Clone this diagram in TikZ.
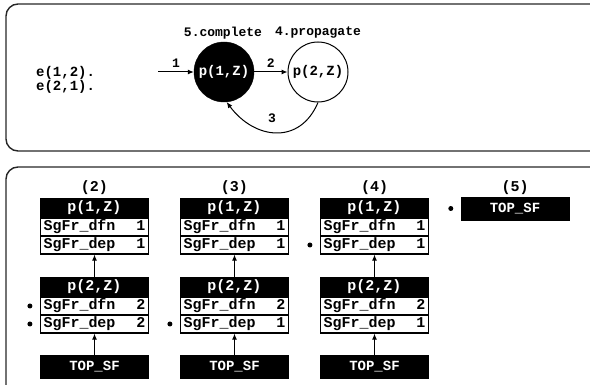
\documentclass[tikz,border=0pt]{standalone}
\usepackage{fontspec}
\setmonofont{Liberation Mono}
\usetikzlibrary{arrows.meta}
\newcommand{\fs}[1]{\fontsize{#1}{#1}\selectfont}
\tikzset{
  panel/.style={draw=black!85, line width=1.4pt, rounded corners=12pt},
  arr/.style={-{Latex[length=6pt,width=5pt]}, line width=1pt},
  lbl/.style={font=\ttfamily\bfseries\fs{13}, inner sep=1pt},
  hdr/.style={fill=black, draw=black, text=white, minimum width=108pt, minimum height=20pt, inner sep=0pt, font=\ttfamily\bfseries\fs{15}},
  rowbox/.style={fill=white, draw=black, line width=1.2pt, minimum width=108pt, minimum height=18pt, inner sep=0pt, font=\ttfamily\bfseries\fs{15}},
  topsf/.style={fill=black, draw=black, text=white, minimum width=108pt, minimum height=23pt, inner sep=0pt, font=\ttfamily\bfseries\fs{14}},
  dotn/.style={circle, fill=black, inner sep=0pt, minimum size=5pt},
  coltitle/.style={font=\ttfamily\bfseries\fs{15}, inner sep=0pt},
}
\newcommand{\rowtxt}[2]{\hbox to 102pt{#1\hfill #2}}
% \myframe{prefix}{xcenter}{ytop}{title}{dfn}{dep}
\newcommand{\myframe}[6]{%
  \node[hdr] (#1h) at (#2,#3+10) {#4};
  \node[rowbox] (#1a) at (#2,#3+29) {\rowtxt{SgFr\_dfn}{#5}};
  \node[rowbox] (#1b) at (#2,#3+47) {\rowtxt{SgFr\_dep}{#6}};
}
\begin{document}
\begin{tikzpicture}[x=1pt,y=-1pt]
\useasboundingbox (0,0) rectangle (590,385);
\begin{scope}
  \clip (0,0) rectangle (590,385);
  \draw[panel] (6,4) rectangle (620,151);
  \draw[panel] (6,167) rectangle (620,410);
\end{scope}
% top panel
\node[font=\ttfamily\bfseries\fs{14}, anchor=west, align=left, inner sep=0pt] (facts) at (36,79.5) {e(1,2).\\e(2,1).};
\node[circle, fill=black, draw=black, text=white, minimum size=60pt, inner sep=0pt, font=\ttfamily\bfseries\fs{14}] (p1) at (224,72) {p(1,Z)};
\node[circle, fill=white, draw=black, line width=1pt, minimum size=60pt, inner sep=0pt, font=\ttfamily\bfseries\fs{14}] (p2) at (318,72) {p(2,Z)};
\node[lbl] (t1) at (223,33) {5.complete};
\node[lbl] (t2) at (318,33) {4.propagate};
\coordinate (s1) at (158,72);
\draw[arr] (s1) -- (p1.west) node[lbl, midway, above=3pt] (l1) {1};
\draw[arr] (p1.east) -- (p2.west) node[lbl, midway, above=3pt] (l2) {2};
\draw[arr] (p2.south) .. controls (300,145) and (255,140) .. (p1.-85);
\node[lbl] (l3) at (272,118) {3};
% bottom panel
\node[coltitle] (c2) at (94.5,188) {(2)};
\node[coltitle] (c3) at (234.5,188) {(3)};
\node[coltitle] (c4) at (374.5,188) {(4)};
\node[coltitle] (c5) at (515,188) {(5)};
% column (2)
\myframe{A}{94.5}{198}{p(1,Z)}{1}{1}
\myframe{B}{94.5}{277}{p(2,Z)}{2}{2}
\node[topsf] (Ct) at (94.5,366.5) {TOP\_SF};
\draw[arr] (Ct.north) -- (Bb.south);
\draw[arr] (Bh.north) -- (Ab.south);
\node[dotn] (dB1) at ([xshift=-10pt]Ba.west) {};
\node[dotn] (dB2) at ([xshift=-10pt]Bb.west) {};
% column (3)
\myframe{D}{234.5}{198}{p(1,Z)}{1}{1}
\myframe{E}{234.5}{277}{p(2,Z)}{2}{1}
\node[topsf] (Ft) at (234.5,366.5) {TOP\_SF};
\draw[arr] (Ft.north) -- (Eb.south);
\draw[arr] (Eh.north) -- (Db.south);
\node[dotn] (dE2) at ([xshift=-10pt]Eb.west) {};
% column (4)
\myframe{G}{374.5}{198}{p(1,Z)}{1}{1}
\myframe{H}{374.5}{277}{p(2,Z)}{2}{1}
\node[topsf] (It) at (374.5,366.5) {TOP\_SF};
\draw[arr] (It.north) -- (Hb.south);
\draw[arr] (Hh.north) -- (Gb.south);
\node[dotn] (dG2) at ([xshift=-10pt]Gb.west) {};
% column (5)
\node[topsf] (Jt) at (515,208.5) {TOP\_SF};
\node[dotn] (dJ) at ([xshift=-10pt]Jt.west) {};
\end{tikzpicture}
\end{document}
